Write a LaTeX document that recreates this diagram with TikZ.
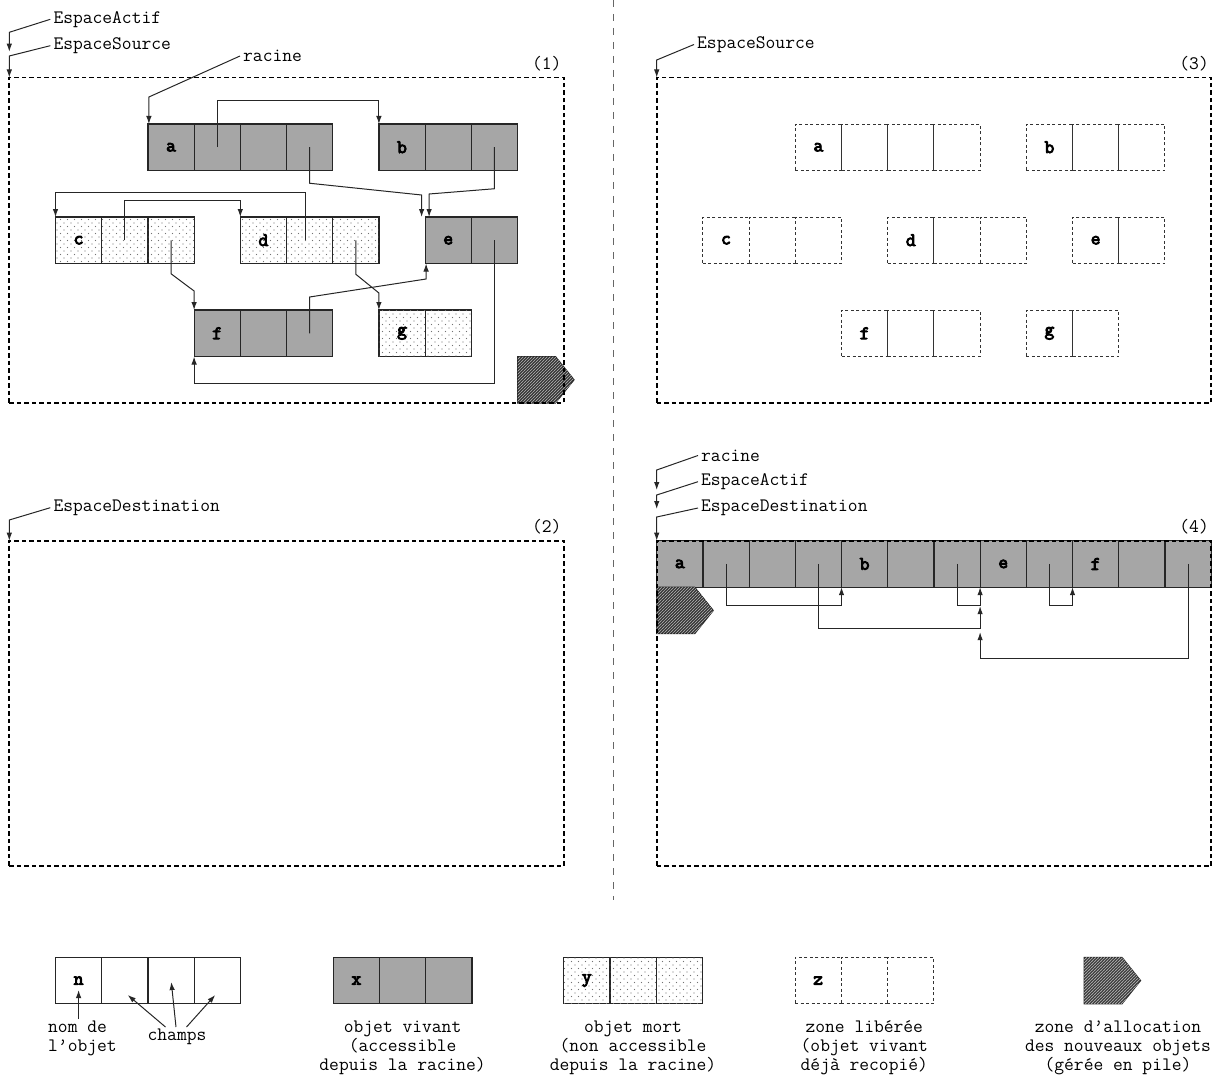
\documentclass[tikz,border=0pt]{standalone}
\usepackage{fontspec}
\usetikzlibrary{arrows.meta,calc,patterns}
\pgfdeclarepatternformonly{sparsedots}{\pgfpoint{-1pt}{-1pt}}{\pgfpoint{7pt}{7pt}}{\pgfpoint{7pt}{7pt}}{%
  \pgfpathcircle{\pgfpoint{1pt}{1pt}}{0.6pt}%
  \pgfpathcircle{\pgfpoint{4.5pt}{4.5pt}}{0.6pt}%
  \pgfusepath{fill}}
\pgfdeclarepatternformonly{hatchlines}{\pgfpoint{-1pt}{-1pt}}{\pgfpoint{4pt}{4pt}}{\pgfpoint{3pt}{3pt}}{%
  \pgfsetlinewidth{0.7pt}%
  \pgfpathmoveto{\pgfpoint{-1pt}{-1pt}}\pgfpathlineto{\pgfpoint{4pt}{4pt}}\pgfusepath{stroke}}
\newcommand{\txtf}{\ttfamily\fontsize{19pt}{19pt}\selectfont}
\newcommand{\heavy}[1]{\special{pdf:literal direct 2 Tr 0.9 w}#1\special{pdf:literal direct 0 Tr 1 w}}
\newcommand{\mkobj}[6]{%
  \foreach \i in {1,...,#4}{\node[cellbox,#6] (#1\i) at ({#2+(\i-0.5)*46.2},{#3+23.25}) {};}%
  \node[celllab] (#1lab) at (#11.center) {\heavy{#5}};}
\tikzset{
  cellbox/.style={draw=black!85, line width=1.2pt, minimum width=46.2pt, minimum height=46.5pt, inner sep=0pt, outer sep=0pt},
  live/.style={fill=black!35},
  dead/.style={fill=white, postaction={pattern=sparsedots, pattern color=black!55}},
  freed/.style={draw=black!80, line width=0.9pt, dash pattern=on 3pt off 2.5pt, fill=white},
  emptycell/.style={fill=white},
  celllab/.style={font=\txtf, inner sep=0pt},
  ptr/.style={draw=black!85, line width=1pt, -{Latex[length=8pt,width=5.5pt]}},
  panel/.style={draw, line width=1.8pt, dash pattern=on 4.5pt off 3pt, minimum width=554.4pt, minimum height=325.5pt, inner sep=0pt, outer sep=0pt, anchor=north west},
  namelab/.style={inner sep=3pt, anchor=west},
  panelnum/.style={inner sep=0pt, anchor=east},
  alloc/.style={draw=black!85, line width=1pt, fill=black!80, postaction={pattern=hatchlines, pattern color=black!35}},
  divider/.style={draw=black!60, line width=1pt, dash pattern=on 7pt off 7pt},
  legtext/.style={align=center, inner sep=0pt},
}
\begin{document}
\begin{tikzpicture}[x=1pt,y=-1pt, every node/.style={font=\txtf}]
\useasboundingbox (0,0) rectangle (1212,1078);

% divider
\draw[divider] (613,0) -- (613,900);

% ---------- panel 1 objects ----------
\mkobj{a}{147.9}{124}{4}{a}{live}
\mkobj{b}{378.9}{124}{3}{b}{live}
\mkobj{c}{55.5}{217}{3}{c}{dead}
\mkobj{d}{240.3}{217}{3}{d}{dead}
\mkobj{e}{425.1}{217}{2}{e}{live}
\mkobj{f}{194.1}{310}{3}{f}{live}
\mkobj{g}{378.9}{310}{2}{g}{dead}

% panel 1 pointers
\draw[ptr] (a2.center) -- ++(0,-46.5) -| (b1.north west);
\draw[ptr] (a4.center) -- ++(0,36) -- ($(e1.north west)+(-3.5,-22)$) -- ($(e1.north west)+(-3.5,0)$);
\draw[ptr] (b3.center) -- ++(0,41.5) -- ($(e1.north west)+(4,-23)$) -- ($(e1.north west)+(4,0)$);
\draw[ptr] (c2.center) -- ++(0,-39.5) -| (d1.north west);
\draw[ptr] ($(d2.center)+(-4,0)$) -- ++(0,-48) -| (c1.north west);
\draw[ptr] (c3.center) -- ++(0,33.5) -- ($(f1.north west)+(0,-19)$) -- (f1.north west);
\draw[ptr] (d3.center) -- ++(0,34) -- ($(g1.north west)+(0,-17)$) -- (g1.north west);
\draw[ptr] (f3.center) -- ++(0,-36.25) -- ($(e1.south west)+(1,15.5)$) -- ($(e1.south west)+(1,0)$);
\draw[ptr] (e2.center) -- ++(0,143) -| (f1.south west);

% ---------- panel 3 objects ----------
\mkobj{ra}{795.3}{124}{4}{a}{freed}
\mkobj{rb}{1026.3}{124}{3}{b}{freed}
\mkobj{rc}{702.9}{217}{3}{c}{freed}
\mkobj{rd}{887.7}{217}{3}{d}{freed}
\mkobj{re}{1072.5}{217}{2}{e}{freed}
\mkobj{rf}{841.5}{310}{3}{f}{freed}
\mkobj{rg}{1026.3}{310}{2}{g}{freed}

% ---------- panel 4 objects ----------
\mkobj{ta}{656.7}{540.7}{4}{a}{live}
\mkobj{tb}{841.5}{540.7}{3}{b}{live}
\mkobj{te}{980.1}{540.7}{2}{e}{live}
\mkobj{tf}{1072.5}{540.7}{3}{f}{live}

\draw[ptr] (ta2.center) -- ++(0,41.3) -| (tb1.south west);
\draw[ptr] (tb3.center) -- ++(0,41.3) -| (te1.south west);
\draw[ptr] (te2.center) -- ++(0,41.3) -| (tf1.south west);
\draw[ptr] (ta4.center) -- ++(0,64.7) -| ($(te1.south west)+(0,19)$);
\draw[ptr] (tf3.center) -- ++(0,94.3) -| ($(te1.south west)+(0,45)$);

% ---------- allocation zones ----------
\draw[alloc] (517.5,356.5) -- ++(38,0) -- ++(18.6,23.25) -- ++(-18.6,23.25) -- ++(-38,0) -- cycle;
\draw[alloc] (656.7,587.2) -- ++(38,0) -- ++(18.6,23.25) -- ++(-18.6,23.25) -- ++(-38,0) -- cycle;

% ---------- panels ----------
\node[panel] (p1) at (9.3,77.5) {};
\node[panel] (p2) at (9.3,540.7) {};
\node[panel] (p3) at (656.7,77.5) {};
\node[panel] (p4) at (656.7,540.7) {};
\node[panelnum] (n1) at (561.7,63.5) {(1)};
\node[panelnum] (n2) at (561.7,526.5) {(2)};
\node[panelnum] (n3) at (1209,63.5) {(3)};
\node[panelnum] (n4) at (1209,526.5) {(4)};

% ---------- name labels ----------
\node[namelab] (ea1) at (50.3,19.3) {EspaceActif};
\node[namelab] (es1) at (50.3,45.7) {EspaceSource};
\coordinate (ea1end) at (9.3,51.7);
\draw[ptr] (ea1.west) -- (9.3,32.3) -- (ea1end);
\draw[ptr] (es1.west) -- (9.3,56) -- (p1.north west);
\node[namelab] (rac1) at (240,56) {racine};
\draw[ptr] (rac1.west) -- ($(a1.north west)+(1,-27)$) -- ($(a1.north west)+(1,0)$);

\node[namelab] (es3) at (694,44.5) {EspaceSource};
\draw[ptr] (es3.west) -- (656.7,60) -- (p3.north west);

\node[namelab] (ed2) at (50.3,507.7) {EspaceDestination};
\draw[ptr] (ed2.west) -- (9.3,520) -- (p2.north west);

\node[namelab] (rac4) at (698,455.5) {racine};
\node[namelab] (ea4) at (698,481.7) {EspaceActif};
\node[namelab] (ed4) at (698,508) {EspaceDestination};
\coordinate (rac4end) at (656.7,490);
\coordinate (ea4end) at (656.7,509);
\draw[ptr] (rac4.west) -- (656.7,470) -- (rac4end);
\draw[ptr] (ea4.west) -- (656.7,495) -- (ea4end);
\draw[ptr] (ed4.west) -- (656.7,517) -- (p4.north west);

% ---------- legend ----------
\mkobj{ln}{55.5}{957.3}{4}{n}{emptycell}
\mkobj{lx}{333.3}{957.3}{3}{x}{live}
\mkobj{ly}{563.7}{957.3}{3}{y}{dead}
\mkobj{lz}{795}{957.3}{3}{z}{freed}
\draw[alloc] (1084,957.3) -- ++(38,0) -- ++(18.6,23.25) -- ++(-18.6,23.25) -- ++(-38,0) -- cycle;

\node[legtext, align=left, anchor=west] (nom) at (48,1038) {nom de\\l’objet};
\draw[ptr] ($(ln1.center)+(0,38.5)$) -- ($(ln1.center)+(0,9.5)$);
\node[legtext] (champs) at (177,1037) {champs};
\draw[ptr] ($(champs.center)+(-11.5,-10)$) -- ($(ln2.center)+(3,14.5)$);
\draw[ptr] ($(champs.center)+(-1,-10)$) -- ($(ln3.center)+(0.3,1.5)$);
\draw[ptr] ($(champs.center)+(9.5,-10)$) -- ($(ln4.center)+(-2,14.5)$);

\node[legtext] (tx) at (402.6,1047.5) {objet vivant\\(accessible\\depuis la racine)};
\node[legtext] (ty) at (633,1047.5) {objet mort\\(non accessible\\depuis la racine)};
\node[legtext] (tz) at (864.3,1047.5) {zone libérée\\(objet vivant\\déjà recopié)};
\node[legtext] (tw) at (1118,1047.5) {zone d’allocation\\des nouveaux objets\\(gérée en pile)};
\end{tikzpicture}
\end{document}
